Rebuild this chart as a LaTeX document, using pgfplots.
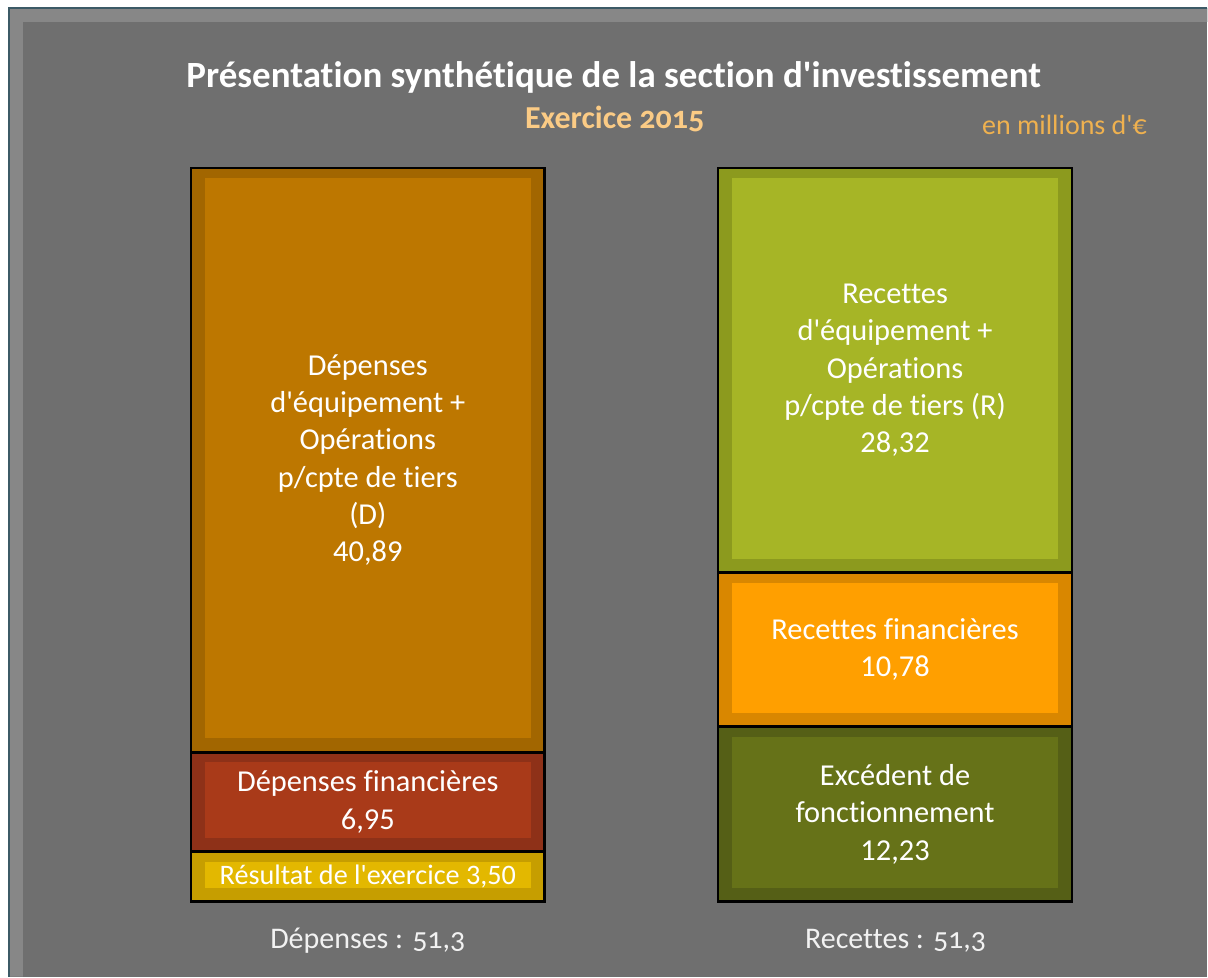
\documentclass[border=0pt]{standalone}
\usepackage{fontspec}
\setmainfont{Carlito}[Ligatures={TeXOff,NoCommon}]
\newfontfamily\oldnum{Carlito}[Numbers=OldStyle,Ligatures={TeXOff,NoCommon}]
\usepackage{pgfplots}
\pgfplotsset{compat=1.18}
\definecolor{bg}{HTML}{6F6F6F}
\definecolor{bevel}{HTML}{878787}
\definecolor{edge}{HTML}{3C5A66}
\definecolor{dein}{HTML}{BD7700}
\definecolor{derim}{HTML}{A26600}
\definecolor{dfin}{HTML}{A93A19}
\definecolor{dfrim}{HTML}{8E3118}
\definecolor{resin}{HTML}{E3B800}
\definecolor{resrim}{HTML}{C69E00}
\definecolor{rein}{HTML}{A6B526}
\definecolor{rerim}{HTML}{8C9A1E}
\definecolor{rfin}{HTML}{FF9F00}
\definecolor{rfrim}{HTML}{D98700}
\definecolor{exin}{HTML}{667218}
\definecolor{exrim}{HTML}{555F16}
\definecolor{subt}{HTML}{FBCB85}
\definecolor{unit}{HTML}{EFB14F}
\tikzset{
  rimbar/.style 2 args={fill=#1, draw=black, line width=1.3pt,
    path picture={\pgfsetfillcolor{#2}\pgfpathrectanglecorners{\pgfpointadd{\pgfpointanchor{path picture bounding box}{south west}}{\pgfpoint{7pt}{7pt}}}{\pgfpointadd{\pgfpointanchor{path picture bounding box}{north east}}{\pgfpoint{-7pt}{-5pt}}}\pgfusepath{fill}}},
  lab/.style={text=white, align=center, font=\fontsize{15.2}{18.7}\selectfont, inner sep=0pt}
}
\pgfplotsset{barax/.style={hide axis, scale only axis, width=527.5pt, height=367pt,
  xmin=-0.5, xmax=1.5, ymin=0, ymax=51.34, ybar stacked, reverse stacked plots=false, bar width=0.6711,
  clip=false, at={(52.125pt,37.5pt)}, anchor=south west}}
\begin{document}
\begin{tikzpicture}[x=0.5pt,y=0.5pt]
\fill[white] (0,0) rectangle (1208,977);
\fill[bg] (9,0) rectangle (1208,969);
\fill[bevel] (9,969) -- (1208,969) -- (1208,955) -- (23,955) -- (23,0) -- (9,0) -- cycle;
\draw[edge, line width=0.6pt] (9,0) -- (9,969) -- (1208,969);
\node[text=white, font=\fontsize{18.5}{22}\selectfont\bfseries] at (614,900) {Présentation synthétique de la section d'investissement};
\node[text=subt, font=\fontsize{16}{19}\selectfont\bfseries] at (615,858) {Exercice {\oldnum 2015}};
\node[text=unit, font=\fontsize{14}{17}\selectfont] at (1065,852) {en millions d'€};
\node[text=white!95!black, font=\fontsize{15}{18}\selectfont] at (368,36) {Dépenses : {\oldnum 51,3}};
\node[text=white!95!black, font=\fontsize{15}{18}\selectfont] at (896,36) {Recettes : {\oldnum 51,3}};
\begin{axis}[barax]
\addplot[rimbar={resrim}{resin}] coordinates {(0,3.50)};
\addplot[rimbar={dfrim}{dfin}] coordinates {(0,6.95)};
\addplot[rimbar={derim}{dein}] coordinates {(0,40.89)};
\node[lab, font=\fontsize{14.1}{17}\selectfont] at (axis cs:0,1.75) {Résultat de l'exercice 3,50};
\node[lab] at (axis cs:0,6.975) {Dépenses financières\\6,95};
\node[lab] at (axis cs:0,30.895) {Dépenses\\d'équipement +\\Opérations\\p/cpte de tiers\\(D)\\40,89};
\end{axis}
\begin{axis}[barax]
\addplot[rimbar={exrim}{exin}] coordinates {(1,12.23)};
\addplot[rimbar={rfrim}{rfin}] coordinates {(1,10.78)};
\addplot[rimbar={rerim}{rein}] coordinates {(1,28.32)};
\node[lab] at (axis cs:1,6.115) {Excédent de\\fonctionnement\\12,23};
\node[lab] at (axis cs:1,17.62) {Recettes financières\\10,78};
\node[lab] at (axis cs:1,37.17) {Recettes\\d'équipement +\\Opérations\\p/cpte de tiers (R)\\28,32};
\end{axis}
\end{tikzpicture}
\end{document}
